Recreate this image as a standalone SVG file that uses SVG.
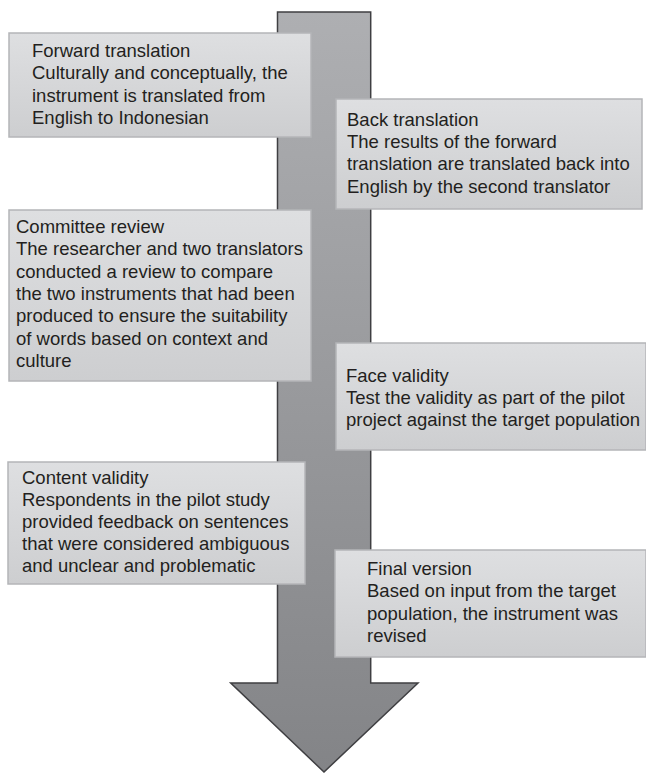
<svg xmlns="http://www.w3.org/2000/svg" width="646" height="773" viewBox="0 0 646 773">
<defs>
<linearGradient id="arrowGrad" x1="0" y1="0" x2="0" y2="1">
<stop offset="0" stop-color="#aeafb2"/>
<stop offset="1" stop-color="#838487"/>
</linearGradient>
<linearGradient id="boxGrad" x1="0" y1="0" x2="0" y2="1">
<stop offset="0" stop-color="#dedfe1"/>
<stop offset="1" stop-color="#cdced0"/>
</linearGradient>
</defs>
<style>
.box{fill:url(#boxGrad);stroke:#b4b5b8;stroke-width:1.5}
.t{font-family:"Liberation Sans",Arial,sans-serif;font-size:18.5px;fill:#231f20}
</style>
<rect width="646" height="773" fill="#ffffff"/>
<g id="connectors">
<path d="M277.5,12 L370.7,12 L370.7,683 L418,683 L324,772 L230.7,683 L277.5,683 Z" fill="url(#arrowGrad)" stroke="#3f3f42" stroke-width="1.5" stroke-linejoin="miter"/>
</g>
<g id="forward">
<rect class="box" x="9" y="33" width="302" height="104"/>
<text class="t" x="32" y="57.3">Forward translation<tspan x="32" dy="22">Culturally and conceptually, the</tspan><tspan x="32" dy="22.2">instrument is translated from</tspan><tspan x="32" dy="22">English to Indonesian</tspan></text>
</g>
<g id="back">
<rect class="box" x="336" y="99" width="306" height="110"/>
<text class="t" x="347" y="126">Back translation<tspan x="347" dy="22.2">The results of the forward</tspan><tspan x="347" dy="22.2">translation are translated back into</tspan><tspan x="347" dy="22.3">English by the second translator</tspan></text>
</g>
<g id="committee">
<rect class="box" x="9" y="210" width="302" height="171"/>
<text class="t" x="16" y="232.8">Committee review<tspan x="16" dy="22.4">The researcher and two translators</tspan><tspan x="16" dy="22.4">conducted a review to compare</tspan><tspan x="16" dy="22.4">the two instruments that had been</tspan><tspan x="16" dy="22.4">produced to ensure the suitability</tspan><tspan x="16" dy="22.4">of words based on context and</tspan><tspan x="16" dy="22.4">culture</tspan></text>
</g>
<g id="face">
<rect class="box" x="336" y="343" width="310" height="107"/>
<text class="t" x="346" y="381.8">Face validity<tspan x="346" dy="22.2">Test the validity as part of the pilot</tspan><tspan x="346" dy="22.2">project against the target population</tspan></text>
</g>
<g id="content">
<rect class="box" x="8" y="462" width="297" height="122"/>
<text class="t" x="22" y="484">Content validity<tspan x="22" dy="21.9">Respondents in the pilot study</tspan><tspan x="22" dy="21.9">provided feedback on sentences</tspan><tspan x="22" dy="21.9">that were considered ambiguous</tspan><tspan x="22" dy="21.9">and unclear and problematic</tspan></text>
</g>
<g id="final">
<rect class="box" x="335" y="550" width="311" height="107"/>
<text class="t" x="367" y="575">Final version<tspan x="367" dy="22.4">Based on input from the target</tspan><tspan x="367" dy="22.4">population, the instrument was</tspan><tspan x="367" dy="22.4">revised</tspan></text>
</g>
</svg>
